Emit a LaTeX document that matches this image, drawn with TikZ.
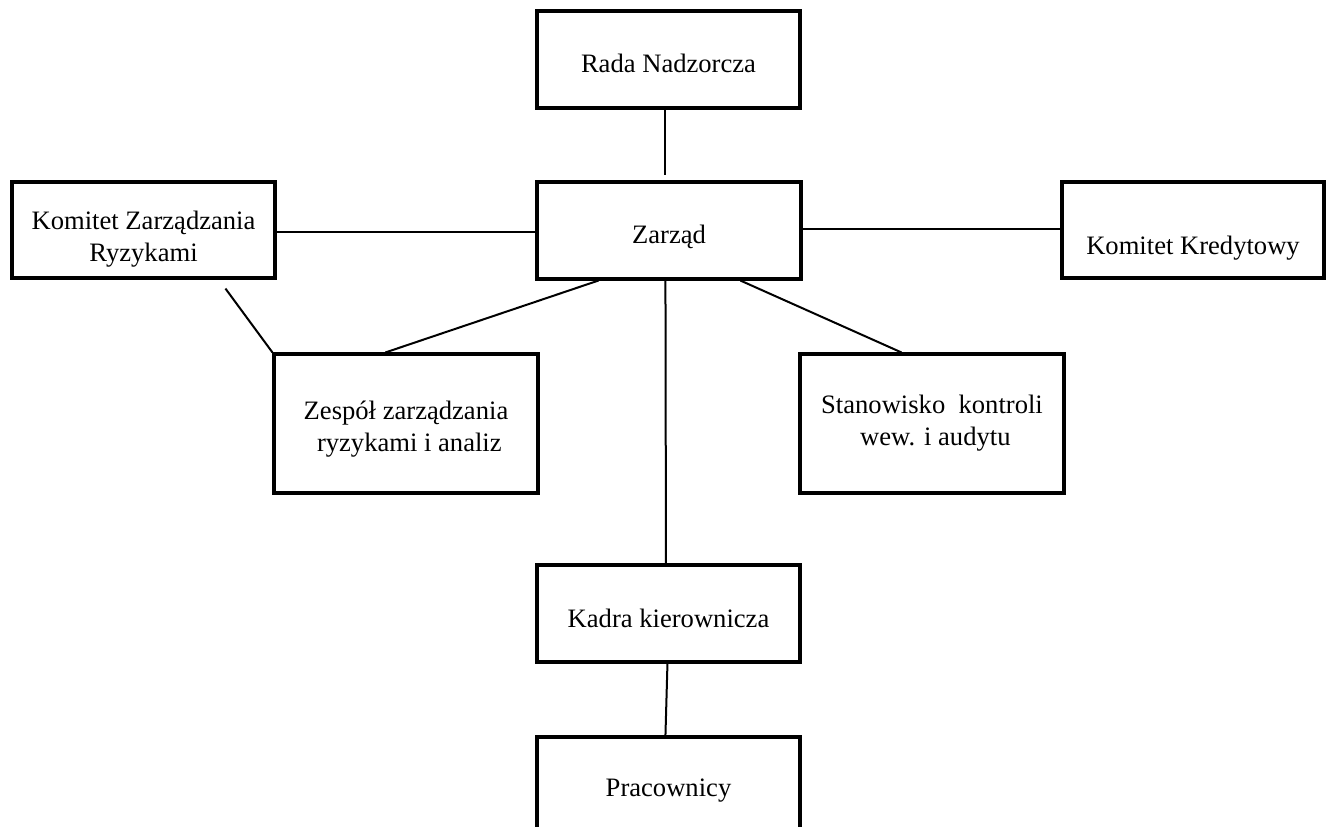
\documentclass[tikz,border=0pt]{standalone}
\usepackage{fontspec}
\setmainfont{Liberation Serif}
\usetikzlibrary{calc}
\newcommand{\dn}[2]{\raisebox{-#1pt}[\height][\depth]{#2}}
\begin{document}
\begin{tikzpicture}[x=1pt,y=-1pt,
  orgbox/.style={draw, line width=3.1pt, inner sep=0pt, align=center,
    font=\fontsize{26.6}{32}\selectfont},
  conn/.style={line width=2pt}]
\useasboundingbox (0,0) rectangle (1333,827);
\clip (0,0) rectangle (1333,827);
\fill[white] (0,0) rectangle (1333,827);
\node[orgbox, minimum width=263pt, minimum height=97pt] (rada) at (668.5,59.5) {\dn{4}{Rada Nadzorcza}};
\node[orgbox, minimum width=264pt, minimum height=97pt] (zarzad) at (669,230.5) {\dn{6}{Zarząd}};
\node[orgbox, minimum width=263pt, minimum height=96pt] (kzr) at (143.5,230) {\dn{9}{\begin{tabular}{@{}c@{}}Komitet Zarządzania\\Ryzykami\end{tabular}}};
\node[orgbox, minimum width=262pt, minimum height=96pt] (kk) at (1193,230) {\dn{18}{Komitet Kredytowy}};
\node[orgbox, minimum width=264pt, minimum height=139pt] (zespol) at (406,423.5) {\dn{6}{\begin{tabular}{@{}c@{}}Zespół zarządzania\\\ ryzykami i analiz\end{tabular}}};
\node[orgbox, minimum width=264pt, minimum height=139pt] (stan) at (932,423.5) {\dn{0}{\begin{tabular}{@{}c@{}}Stanowisko\ \ kontroli\\\ wew. i audytu\end{tabular}}};
\node[orgbox, minimum width=263pt, minimum height=97pt] (kadra) at (668.5,613.5) {\dn{5}{Kadra kierownicza}};
\node[orgbox, minimum width=263pt, minimum height=97pt] (prac) at (668.5,785.5) {\dn{5}{Pracownicy}};
\draw[conn] ($(rada.south)+(-3.5,0)$) -- ($(zarzad.north)+(-4,-5)$);
\draw[conn] ($(kzr.east)+(-3,2)$) -- ($(zarzad.west)+(0,1.5)$);
\draw[conn] ($(zarzad.east)+(0,-1.5)$) -- ($(kk.west)+(0,-1)$);
\draw[conn] ($(kzr.south west)+(215,9)$) -- (zespol.north west);
\draw[conn] ($(zarzad.south west)+(63,0)$) -- ($(zespol.north west)+(113,0)$);
\draw[conn] ($(zarzad.south west)+(205,0)$) -- ($(stan.north west)+(103,0)$);
\draw[conn] ($(zarzad.south west)+(130,0)$) -- ($(kadra.north west)+(130.5,0)$);
\draw[conn] ($(kadra.south west)+(132,0)$) -- ($(prac.north west)+(130,0)$);
\end{tikzpicture}
\end{document}
